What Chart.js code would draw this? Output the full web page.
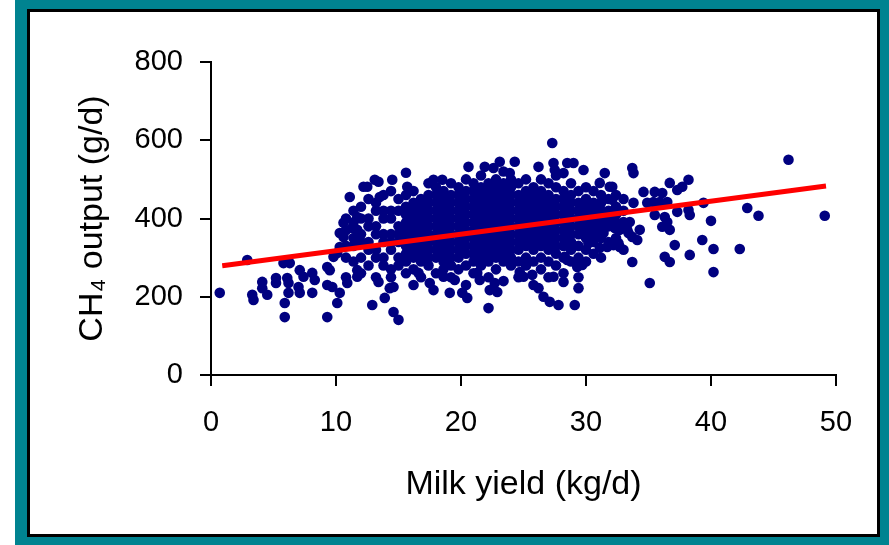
<!DOCTYPE html>
<html><head><meta charset="utf-8">
<script src="https://cdn.jsdelivr.net/npm/chart.js@4/dist/chart.umd.min.js"></script>
<style>
html,body{margin:0;padding:0;background:#fff;}
body{width:889px;height:545px;position:relative;overflow:hidden;}
#frame{position:absolute;left:15px;top:0;width:874px;height:545px;background:#008390;}
#panel{position:absolute;left:27px;top:9px;width:847px;height:522px;background:#fff;border:3px solid #000;}
#c{position:absolute;left:0;top:0;}
</style></head>
<body>
<div id="frame"></div><div id="panel"></div>
<canvas id="c" width="889" height="545"></canvas>
<script>
// Tick labels
const xTickValues = [0, 10, 20, 30, 40, 50];
const yTickValues = [0, 200, 400, 600, 800];
// Regression line end points
const fitX = [0.9, 49.2];
const fitY = [279, 483];
// Dense core of the cloud, read column by column (milk yield -> CH4 values)
const coreColumnX = [10.8,11.4,12.0,12.6,13.2,13.8,14.4,15.0,15.6,16.2,16.8,17.4,18.0,18.6,19.2,19.8,20.4,21.0,21.6,22.2,22.8,23.4,24.0,24.6,25.2,25.8,26.4,27.0,27.6,28.2,28.8,29.4,30.0,30.6,31.2,31.8,32.4,33.0];
const coreColumnY = [
 [250,300,330,370,400],
 [290,330,350,390,420],
 [260,300,340,360,400,430],
 [280,320,340,380,400,450],
 [250,300,320,360,380,420,440],
 [280,300,340,360,400,420,460],
 [250,270,320,340,360,400,420,470],
 [280,300,340,360,380,420,450],
 [260,290,310,330,350,370,390,410,430,460],
 [270,300,320,340,360,380,400,420,440,470],
 [250,290,310,330,350,370,390,410,430,450],
 [280,300,320,340,360,380,400,420,440,460,490],
 [260,300,320,340,360,380,400,420,440,460,480],
 [270,290,310,330,350,370,390,410,430,450,470],
 [250,280,300,320,340,360,380,400,420,440,460,490],
 [270,300,320,340,360,380,400,420,440,460,480],
 [230,280,310,330,350,370,390,410,430,450,470,500],
 [260,290,310,330,350,370,390,410,430,450,470,490],
 [280,300,320,340,360,380,400,420,440,460,480,510],
 [250,290,310,330,350,370,390,410,430,450,470,490],
 [270,300,320,340,360,380,400,420,440,460,480,500],
 [240,290,310,330,350,370,390,410,430,450,470,490,520],
 [280,300,320,340,360,380,400,420,440,460,480,500],
 [250,290,320,340,360,380,400,420,440,460,490],
 [280,300,330,350,370,390,410,430,450,470,500],
 [230,290,320,340,360,380,400,420,440,460,480],
 [270,300,330,350,370,390,410,430,450,470,500],
 [250,290,320,340,360,380,400,420,440,460,490],
 [280,310,330,350,370,390,410,430,450,480,510],
 [260,300,330,350,370,390,410,430,450,470],
 [290,320,340,360,380,400,420,440,460,490],
 [250,300,330,360,380,400,420,440,470],
 [290,320,350,370,390,410,430,450,480],
 [310,340,360,380,400,420,440,470],
 [300,350,370,390,410,440,460],
 [340,380,400,420,450],
 [350,390,410,430,460],
 [320,380,420,450]
];
// Scattered points outside the core
const sparseX = [0.7,2.9,3.3,3.4,4.1,4.1,4.5,5.2,5.2,5.8,6.3,5.9,5.9,6.1,6.2,6.2,7.1,7.4,7.0,7.1,8.1,8.3,8.1,9.3,9.5,9.3,9.7,9.3,10.1,10.3,10.9,9.8,10.1,10.3,10.6,10.3,10.6,11.1,11.3,11.7,11.7,11.7,11.7,11.7,12.2,12.5,12.9,13.1,13.4,13.5,13.9,14.5,14.6,15.0,15.6,15.7,14.3,14.6,16.2,13.4,
 27.3,17.8,18.5,20.6,21.9,22.6,23.1,24.3,23.9,26.2,27.4,27.5,28.5,29.0,29.8,28.2,31.5,31.1,31.9,17.5,17.8,16.6,18.6,19.1,19.5,20.1,20.5,22.2,22.3,22.9,22.7,21.3,21.5,24.7,25.0,25.7,26.2,26.6,27.1,27.8,29.1,29.4,28.2,27.4,29.7,29.3,28.3,28.5,32.2,31.7,31.1,30.2,
 46.2,49.1,42.9,43.8,42.3,40.2,40.2,40.0,39.3,39.4,38.3,38.2,37.7,37.3,36.7,37.1,36.3,36.7,35.1,33.7,33.7,33.8,32.1,34.6,33.8,35.5,36.1,34.9,35.4,35.9,36.5,35.5,36.3,36.5,36.1,36.7,37.3,38.2,38.3,32.1,31.4,31.4,32.6,32.7,32.3,32.7,33.3,33.4,33.7,34.3,33.5,33.0,34.1,31.1];
const sparseY = [210,294,205,192,238,222,205,248,235,286,286,184,148,248,235,210,268,251,225,210,261,243,210,276,268,230,225,148,184,210,235,302,312,327,353,363,389,455,376,371,404,340,268,251,481,481,179,499,494,455,197,499,161,141,517,481,222,225,230,238,
 593,499,499,532,532,529,545,545,516,532,542,524,542,542,524,516,516,491,481,235,217,261,251,210,243,210,197,171,217,212,235,261,243,263,251,256,222,200,187,179,179,222,238,251,281,276,302,294,332,327,325,337,
 550,407,427,407,322,322,263,394,345,440,307,499,481,473,491,332,302,289,235,289,529,516,481,468,440,468,465,440,442,442,442,409,404,391,379,371,417,422,409,448,376,363,337,327,376,371,371,363,353,371,391,391,345,427];

const points = [];
coreColumnX.forEach((x, i) => coreColumnY[i].forEach(y => points.push({x, y})));
sparseX.forEach((x, i) => points.push({x, y: sparseY[i]}));
const fitLine = fitX.map((x, i) => ({x, y: fitY[i]}));

const FONT = "'Liberation Sans', Arial, Helvetica, sans-serif";
new Chart(document.getElementById('c'), {
  type: 'scatter',
  data: { datasets: [
    { data: fitLine, showLine: true, borderColor: '#ff0000', borderWidth: 5, pointRadius: 0, order: 0, borderCapStyle: 'butt' },
    { data: points, backgroundColor: '#000080', borderWidth: 0, pointRadius: 5.3, pointHoverRadius: 5.3, order: 1 }
  ]},
  options: {
    responsive: false, animation: false, devicePixelRatio: 1,
    layout: { padding: { left: 0, right: 53, top: 62, bottom: 0 } },
    plugins: { legend: { display: false }, tooltip: { enabled: false } },
    scales: {
      x: {
        type: 'linear', position: 'bottom', min: 0, max: 50,
        afterFit(s) { s.height = 170; },
        afterBuildTicks(s) { s.ticks = xTickValues.map(v => ({ value: v })); },
        grid: { drawOnChartArea: false, drawTicks: true, tickLength: 11, color: '#000', lineWidth: 2 },
        border: { color: '#000', width: 2 },
        ticks: { color: '#000', font: { family: FONT, size: 29 }, padding: 20, maxRotation: 0 },
        title: { display: true, text: 'Milk yield (kg/d)', color: '#000', font: { family: FONT, size: 34 }, padding: { top: 0, bottom: 40 } }
      },
      y: {
        type: 'linear', position: 'left', min: 0, max: 800,
        afterFit(s) { s.width = 211; },
        afterBuildTicks(s) { s.ticks = yTickValues.map(v => ({ value: v })); },
        grid: { drawOnChartArea: false, drawTicks: true, tickLength: 11, color: '#000', lineWidth: 2 },
        border: { color: '#000', width: 2 },
        ticks: { color: '#000', font: { family: FONT, size: 29 }, padding: 17 },
        title: { display: true, text: 'CH\u2084 output (g/d)', color: '#000', font: { family: FONT, size: 34 }, padding: { top: 72, bottom: 0 } }
      }
    }
  }
});
</script>
</body></html>
